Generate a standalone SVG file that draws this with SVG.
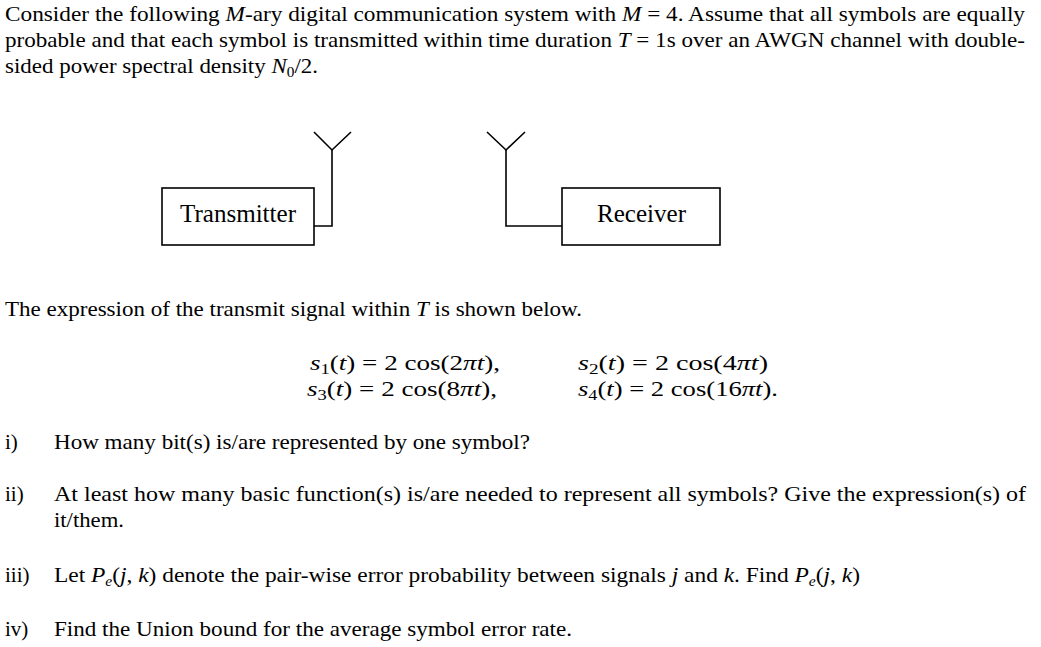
<svg xmlns="http://www.w3.org/2000/svg" width="1041" height="647" viewBox="0 0 1041 647">
<style>
text{font-family:"Liberation Serif","Times New Roman",serif;font-size:21px;fill:#000}
.i{font-style:italic}
.box{fill:#fff;stroke:#000;stroke-width:1.6}
.lbl{font-size:24.5px}
.wire{fill:none;stroke:#000;stroke-width:1.6}
.eq{font-family:"Liberation Serif","DejaVu Serif",serif;font-size:22px}
</style>
<rect x="0" y="0" width="1041" height="647" fill="#fff"/>
<g id="intro">
<text x="5" y="21" textLength="1020" lengthAdjust="spacingAndGlyphs">Consider the following <tspan class="i">M</tspan>-ary digital communication system with <tspan class="i">M</tspan> = 4. Assume that all symbols are equally</text>
<text x="5" y="47" textLength="1020" lengthAdjust="spacingAndGlyphs">probable and that each symbol is transmitted within time duration <tspan class="i">T</tspan> = 1s over an AWGN channel with double-</text>
<text x="5" y="73" textLength="313" lengthAdjust="spacingAndGlyphs">sided power spectral density <tspan class="i">N</tspan><tspan font-size="14" dy="4">0</tspan><tspan dy="-4">/2.</tspan></text>
</g>
<g id="transmitter">
<rect class="box" x="162" y="188" width="152" height="57"/>
<text class="lbl" x="180" y="221.5" textLength="116" lengthAdjust="spacingAndGlyphs">Transmitter</text>
</g>
<g id="receiver">
<rect class="box" x="562" y="188" width="158" height="57"/>
<text class="lbl" x="597" y="221.5" textLength="89" lengthAdjust="spacingAndGlyphs">Receiver</text>
</g>
<g id="connectors">
<polyline class="wire" points="314,226 332,226 332,150"/>
<polyline class="wire" points="314,132 332,150 351,132"/>
<polyline class="wire" points="562,226 506,226 506,150"/>
<polyline class="wire" points="487,132 506,150 525,132"/>
</g>
<g id="signals">
<text x="5" y="316" textLength="577" lengthAdjust="spacingAndGlyphs">The expression of the transmit signal within <tspan class="i">T</tspan> is shown below.</text>
<text class="eq" x="310" y="370" textLength="190" lengthAdjust="spacingAndGlyphs"><tspan class="i">s</tspan><tspan font-size="15" dy="4">1</tspan><tspan dy="-4">(</tspan><tspan class="i">t</tspan>) = 2 cos(2<tspan class="i">πt</tspan>),</text>
<text class="eq" x="578" y="370" textLength="190" lengthAdjust="spacingAndGlyphs"><tspan class="i">s</tspan><tspan font-size="15" dy="4">2</tspan><tspan dy="-4">(</tspan><tspan class="i">t</tspan>) = 2 cos(4<tspan class="i">πt</tspan>)</text>
<text class="eq" x="307" y="396" textLength="190" lengthAdjust="spacingAndGlyphs"><tspan class="i">s</tspan><tspan font-size="15" dy="4">3</tspan><tspan dy="-4">(</tspan><tspan class="i">t</tspan>) = 2 cos(8<tspan class="i">πt</tspan>),</text>
<text class="eq" x="578" y="396" textLength="200" lengthAdjust="spacingAndGlyphs"><tspan class="i">s</tspan><tspan font-size="15" dy="4">4</tspan><tspan dy="-4">(</tspan><tspan class="i">t</tspan>) = 2 cos(16<tspan class="i">πt</tspan>).</text>
</g>
<g id="questions">
<text x="5" y="449">i)</text>
<text x="54" y="449" textLength="476" lengthAdjust="spacingAndGlyphs">How many bit(s) is/are represented by one symbol?</text>
<text x="5" y="501">ii)</text>
<text x="54" y="501" textLength="972" lengthAdjust="spacingAndGlyphs">At least how many basic function(s) is/are needed to represent all symbols? Give the expression(s) of</text>
<text x="54" y="527" textLength="70" lengthAdjust="spacingAndGlyphs">it/them.</text>
<text x="5" y="582">iii)</text>
<text x="54" y="582" textLength="806" lengthAdjust="spacingAndGlyphs">Let <tspan class="i">P</tspan><tspan class="i" font-size="14" dy="4">e</tspan><tspan dy="-4">(</tspan><tspan class="i">j</tspan>, <tspan class="i">k</tspan>) denote the pair-wise error probability between signals <tspan class="i">j</tspan> and <tspan class="i">k</tspan>. Find <tspan class="i">P</tspan><tspan class="i" font-size="14" dy="4">e</tspan><tspan dy="-4">(</tspan><tspan class="i">j</tspan>, <tspan class="i">k</tspan>)</text>
<text x="5" y="636">iv)</text>
<text x="54" y="636" textLength="518" lengthAdjust="spacingAndGlyphs">Find the Union bound for the average symbol error rate.</text>
</g>
</svg>
